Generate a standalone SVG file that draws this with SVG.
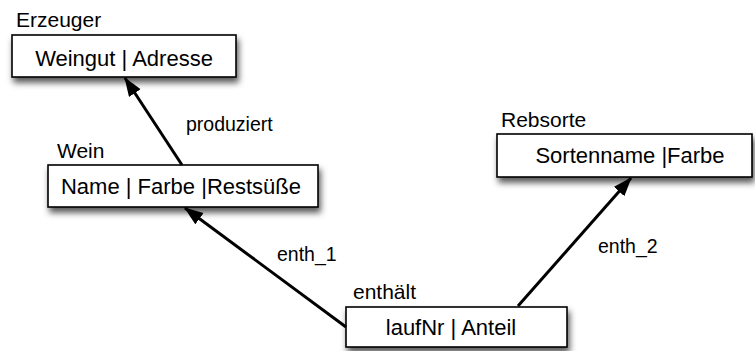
<svg xmlns="http://www.w3.org/2000/svg" width="755" height="351" viewBox="0 0 755 351">
  <defs>
    <filter id="shadow" x="-10%" y="-30%" width="120%" height="170%">
      <feDropShadow dx="2" dy="5" stdDeviation="3" flood-color="#000" flood-opacity="0.65"/>
    </filter>
    <marker id="arrow" markerUnits="userSpaceOnUse" markerWidth="20" markerHeight="16" refX="18" refY="7" orient="auto">
      <path d="M0,0 L19,7 L0,14 Z" fill="#000"/>
    </marker>
    <style>
      .box { fill: #fff; stroke: #000; stroke-width: 1.6; filter: url(#shadow); }
      .txt { font-family: "Liberation Sans", Arial, sans-serif; font-size: 22px; fill: #000; }
      .title { font-family: "Liberation Sans", Arial, sans-serif; font-size: 21px; fill: #000; }
      .lbl { font-family: "Liberation Sans", Arial, sans-serif; font-size: 19.5px; fill: #000; }
      .edge { stroke: #000; stroke-width: 3; fill: none; marker-end: url(#arrow); }
    </style>
  </defs>
  <rect width="755" height="351" fill="#fff"/>

  <g id="erzeuger">
    <text class="title" x="16" y="27">Erzeuger</text>
    <rect class="box" x="12" y="35" width="224" height="42"/>
    <text class="txt" x="124" y="66" text-anchor="middle">Weingut | Adresse</text>
  </g>

  <g id="wein">
    <text class="title" x="57" y="158">Wein</text>
    <rect class="box" x="48" y="165" width="270" height="42"/>
    <text class="txt" x="181" y="194" text-anchor="middle">Name | Farbe |Restsüße</text>
  </g>

  <g id="rebsorte">
    <text class="title" x="501" y="127">Rebsorte</text>
    <rect class="box" x="497" y="134" width="255" height="43"/>
    <text class="txt" x="630" y="163" text-anchor="middle">Sortenname |Farbe</text>
  </g>

  <g id="enthaelt">
    <text class="title" x="353" y="299">enthält</text>
    <rect class="box" x="346" y="307" width="221" height="40"/>
    <text class="txt" x="451" y="335" text-anchor="middle">laufNr | Anteil</text>
  </g>

  <g id="connectors">
    <line class="edge" x1="182" y1="165" x2="125" y2="78"/>
    <line class="edge" x1="346" y1="327" x2="185" y2="208"/>
    <line class="edge" x1="518" y1="306" x2="631" y2="178"/>
    <text class="lbl" x="186" y="131">produziert</text>
    <text class="lbl" x="277" y="261">enth_1</text>
    <text class="lbl" x="598" y="253">enth_2</text>
  </g>
</svg>
